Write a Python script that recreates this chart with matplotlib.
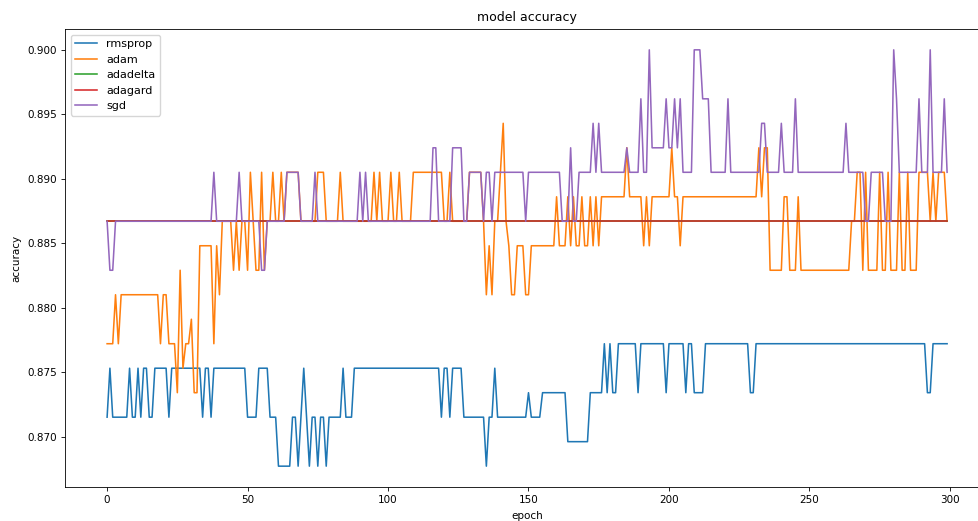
""" Training accuracy per epoch for five optimizers, redrawn from a screenshot. """

import numpy as np
import matplotlib.pyplot as plt

EPOCHS = 300

# Each series is a step curve: the epoch where a new value starts, and the value held from there.
rmsprop_start = [0, 1, 2, 8, 9, 11, 12, 13, 15, 17, 22, 23, 34, 35, 37, 38, 50, 54, 58, 61,
                 66, 68, 69, 70, 71, 72, 73, 75, 76, 78, 79, 84, 85, 88, 119, 120, 122, 123,
                 127, 135, 136, 138, 139, 150, 151, 155, 164, 172, 177, 178, 179, 180, 182,
                 189, 190, 199, 200, 206, 207, 209, 213, 229, 231, 292, 294]
rmsprop_acc = [0.8715, 0.8753, 0.8715, 0.8753, 0.8715, 0.8753, 0.8715, 0.8753, 0.8715, 0.8753,
               0.8715, 0.8753, 0.8715, 0.8753, 0.8715, 0.8753, 0.8715, 0.8753, 0.8715, 0.8677,
               0.8715, 0.8677, 0.8715, 0.8753, 0.8715, 0.8677, 0.8715, 0.8677, 0.8715, 0.8677,
               0.8715, 0.8753, 0.8715, 0.8753, 0.8715, 0.8753, 0.8715, 0.8753,
               0.8715, 0.8677, 0.8715, 0.8753, 0.8715, 0.8734, 0.8715, 0.8734, 0.8696, 0.8734,
               0.8772, 0.8734, 0.8772, 0.8734, 0.8772,
               0.8734, 0.8772, 0.8734, 0.8772, 0.8734, 0.8772, 0.8734, 0.8772, 0.8734, 0.8772,
               0.8734, 0.8772]

adam_start = [0, 3, 4, 5, 19, 20, 22, 25, 26, 27, 28, 30, 31, 33, 38, 39, 40, 41, 45, 46,
              47, 48, 50, 51, 52, 53, 55, 56, 57, 59, 60, 62, 63, 64, 69, 75, 78, 83, 84, 95,
              96, 97, 98, 101, 102, 104, 105, 109, 120, 122, 123, 129, 134, 135, 136, 137,
              138, 140, 141, 142, 143, 144, 146, 149, 151, 160, 161, 164, 165, 166, 167, 169,
              170, 172, 173, 174, 175, 176, 185, 186, 191, 192, 193, 194, 201, 202, 204, 205,
              232, 233, 234, 236, 241, 243, 246, 247, 265, 267, 269, 270, 271, 275, 276, 278,
              279, 282, 283, 285, 286, 289, 293, 294, 295, 296, 299]
adam_acc = [0.8772, 0.8810, 0.8772, 0.8810, 0.8772, 0.8810, 0.8772, 0.8734, 0.8829, 0.8753,
            0.8772, 0.8791, 0.8734, 0.8848, 0.8772, 0.8848, 0.8810, 0.8867, 0.8829, 0.8867,
            0.8829, 0.8867, 0.8829, 0.8905, 0.8867, 0.8829, 0.8905, 0.8829, 0.8867, 0.8905,
            0.8867, 0.8905, 0.8867, 0.8905, 0.8867, 0.8905, 0.8867, 0.8905, 0.8867, 0.8905,
            0.8867, 0.8905, 0.8867, 0.8905, 0.8867, 0.8905, 0.8867, 0.8905, 0.8867, 0.8905,
            0.8867, 0.8905, 0.8867, 0.8810, 0.8848, 0.8810,
            0.8867, 0.8905, 0.8943, 0.8867, 0.8848, 0.8810, 0.8848, 0.8810, 0.8848, 0.8886,
            0.8848, 0.8886, 0.8848, 0.8886, 0.8848, 0.8886,
            0.8848, 0.8886, 0.8848, 0.8886, 0.8848, 0.8886, 0.8924, 0.8886, 0.8848, 0.8886,
            0.8848, 0.8886, 0.8924, 0.8886, 0.8848, 0.8886,
            0.8924, 0.8886, 0.8924, 0.8829, 0.8886, 0.8829, 0.8886, 0.8829, 0.8867, 0.8905,
            0.8829, 0.8905, 0.8829, 0.8905, 0.8829, 0.8905,
            0.8829, 0.8905, 0.8829, 0.8905, 0.8829, 0.8905, 0.8867, 0.8905, 0.8867, 0.8905,
            0.8867]

adadelta_start = [0]
adadelta_acc = [0.8867]

adagard_start = [0]
adagard_acc = [0.8867]

sgd_start = [0, 1, 3, 38, 39, 47, 48, 55, 57, 64, 69, 74, 75, 90, 91, 92, 93, 116, 118, 123,
             127, 129, 134, 135, 137, 138, 149, 150, 162, 165, 166, 168, 173, 174, 175, 176,
             185, 186, 190, 191, 193, 194, 199, 200, 202, 203, 204, 205, 209, 212, 215, 221,
             222, 233, 235, 240, 241, 245, 246, 263, 264, 270, 272, 277, 280, 281, 282, 289,
             290, 293, 294, 298, 299]
sgd_acc = [0.8867, 0.8829, 0.8867, 0.8905, 0.8867, 0.8905, 0.8867, 0.8829, 0.8867, 0.8905,
           0.8867, 0.8905, 0.8867, 0.8905, 0.8867, 0.8905, 0.8867, 0.8924, 0.8867, 0.8924,
           0.8867, 0.8905, 0.8867, 0.8905, 0.8867, 0.8905, 0.8867, 0.8905, 0.8867, 0.8924,
           0.8867, 0.8905, 0.8943, 0.8905, 0.8943, 0.8905,
           0.8924, 0.8905, 0.8962, 0.8905, 0.9000, 0.8924, 0.8962, 0.8924, 0.8962, 0.8924,
           0.8962, 0.8905, 0.9000, 0.8962, 0.8905, 0.8962,
           0.8905, 0.8943, 0.8905, 0.8943, 0.8905, 0.8962, 0.8905, 0.8943, 0.8905, 0.8867,
           0.8905, 0.8867, 0.9000, 0.8962, 0.8905, 0.8962,
           0.8905, 0.9000, 0.8905, 0.8962, 0.8905]

labels = ["rmsprop", "adam", "adadelta", "adagard", "sgd"]


def expand(starts, values, n=EPOCHS):
    """Turn change points into one value per epoch."""
    lengths = np.diff(list(starts) + [n])
    return np.repeat(values, lengths)


history = {
    "rmsprop": expand(rmsprop_start, rmsprop_acc),
    "adam": expand(adam_start, adam_acc),
    "adadelta": expand(adadelta_start, adadelta_acc),
    "adagard": expand(adagard_start, adagard_acc),
    "sgd": expand(sgd_start, sgd_acc),
}

plt.rcParams.update({
    "font.size": 7.5,
    "axes.titlesize": 9,
    "legend.fontsize": 8,
    "lines.linewidth": 1.13,
    "axes.linewidth": 0.6,
    "xtick.major.size": 2.6,
    "ytick.major.size": 2.6,
    "xtick.major.width": 0.6,
    "ytick.major.width": 0.6,
})

fig = plt.figure(figsize=(9.79, 5.21), dpi=100)
# the source screenshot cuts off the right edge of the axes
ax = fig.add_axes([0.0665, 0.0653, 0.9438, 0.879])

for name in labels:
    ax.plot(history[name], label=name)

ax.set_title("model accuracy")
ax.set_xlabel("epoch")
ax.set_ylabel("accuracy")
ax.legend(loc="upper left")

fig.savefig("out.png", dpi=100)
plt.close(fig)
